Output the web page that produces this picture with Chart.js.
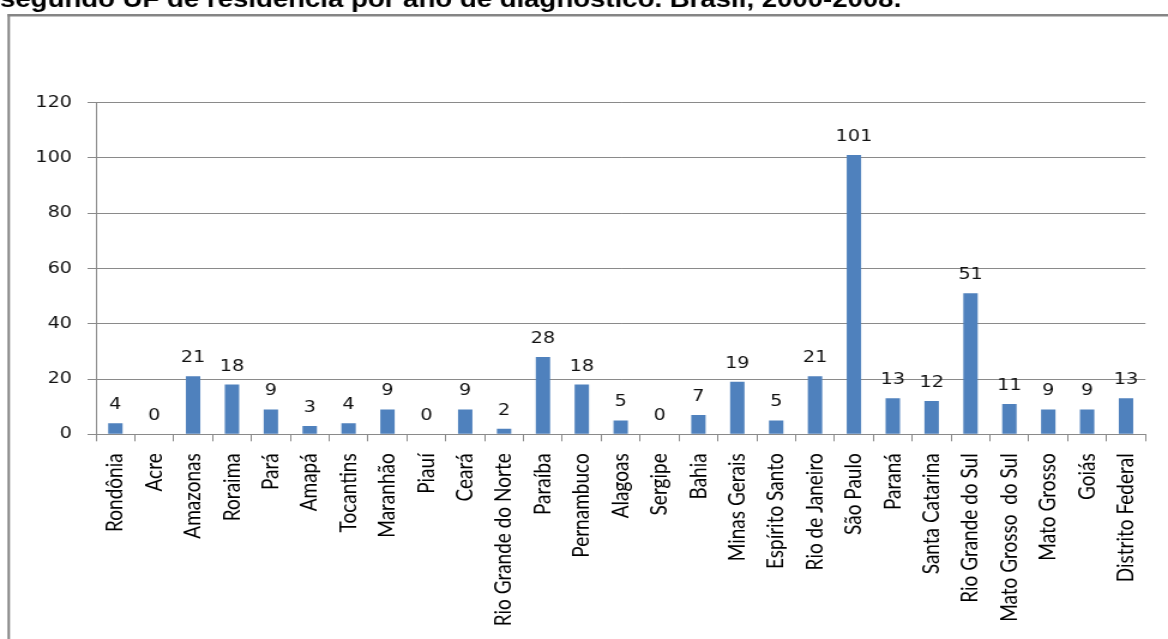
<!DOCTYPE html>
<html>
<head>
<meta charset="utf-8">
<script src="https://cdn.jsdelivr.net/npm/chart.js@4/dist/chart.umd.min.js"></script>
<style>
  html, body { margin: 0; padding: 0; background: #fff; overflow: hidden; }
  /* the figure is laid out at 974px and widened to fill the 1168px page */
  #stage { position: absolute; left: 0; top: 0; width: 974px; height: 639px;
           transform: scaleX(1.19918); transform-origin: 0 0; }
</style>
</head>
<body>
<div id="stage"><canvas id="chart"></canvas></div>
<script>
// Unidades da Federação, na ordem da tabela
const states = [
  "Rondônia", "Acre", "Amazonas", "Roraima", "Pará", "Amapá", "Tocantins",
  "Maranhão", "Piauí", "Ceará", "Rio Grande do Norte", "Paraíba", "Pernambuco",
  "Alagoas", "Sergipe", "Bahia", "Minas Gerais", "Espírito Santo",
  "Rio de Janeiro", "São Paulo", "Paraná", "Santa Catarina",
  "Rio Grande do Sul", "Mato Grosso  do Sul", "Mato Grosso", "Goiás",
  "Distrito Federal"
];

// Casos por UF de residência
const cases = [
  4, 0, 21, 18, 9, 3, 4,
  9, 0, 9, 2, 28, 18,
  5, 0, 7, 19, 5,
  21, 101, 13, 12,
  51, 11, 9, 9,
  13
];

// Escala do eixo vertical
const yTicks = [0, 20, 40, 60, 80, 100, 120];

const titleText = "segundo UF de residência por ano de diagnóstico. Brasil, 2000-2008.";

const GRID = "#8a8a8a";
const BAR = "#4f81bd";

// white page, caption line running off the top edge and the outer frame of the figure
const pagePlugin = {
  id: "page",
  beforeDraw(chart) {
    const ctx = chart.ctx;
    ctx.save();
    ctx.fillStyle = "#ffffff";
    ctx.fillRect(0, 0, chart.width, chart.height);
    ctx.fillStyle = "#000000";
    ctx.font = 'bold 23px "Liberation Sans", Arial, sans-serif';
    ctx.textAlign = "left";
    ctx.textBaseline = "alphabetic";
    ctx.fillText(titleText, 0, 7);
    ctx.fillStyle = "#858585";
    ctx.fillRect(6.3, 14, 2, chart.height);     // left edge of frame
    ctx.fillRect(6.3, 14, chart.width, 2.5);    // top edge of frame
    ctx.restore();
  }
};

// value printed above each column
const valueLabels = {
  id: "valueLabels",
  afterDatasetsDraw(chart) {
    const ctx = chart.ctx;
    const meta = chart.getDatasetMeta(0);
    ctx.save();
    ctx.fillStyle = "#111111";
    ctx.font = '16px "DejaVu Sans", Verdana, sans-serif';
    ctx.textAlign = "center";
    ctx.textBaseline = "alphabetic";
    meta.data.forEach((bar, i) => {
      ctx.fillText(String(cases[i]), bar.x, bar.y - 14);
    });
    ctx.restore();
  }
};

new Chart(document.getElementById("chart"), {
  type: "bar",
  data: {
    labels: states,
    datasets: [{
      data: cases,
      backgroundColor: BAR,
      borderWidth: 0,
      barPercentage: 0.74,
      categoryPercentage: 0.5
    }]
  },
  options: {
    responsive: true,
    maintainAspectRatio: false,
    animation: false,
    devicePixelRatio: 1,
    layout: { padding: { top: 102.5, right: 12.5, bottom: 0, left: 0 } },
    plugins: {
      legend: { display: false },
      tooltip: { enabled: false },
      title: { display: false }
    },
    scales: {
      x: {
        offset: true,
        grid: {
          offset: true,
          drawOnChartArea: false,
          drawTicks: true,
          tickLength: 7,
          color: GRID,
          lineWidth: 1
        },
        border: { display: true, color: GRID, width: 1 },
        ticks: {
          autoSkip: false,
          minRotation: 90,
          maxRotation: 90,
          padding: 12,
          color: "#000000",
          font: { family: 'Lato, "Liberation Sans", sans-serif', size: 19 }
        },
        afterFit(scale) { scale.height = 204.7; }
      },
      y: {
        min: yTicks[0],
        max: yTicks[yTicks.length - 1],
        ticks: {
          stepSize: yTicks[1] - yTicks[0],
          padding: 13,
          color: "#111111",
          font: { family: '"DejaVu Sans", Verdana, sans-serif', size: 16 }
        },
        grid: {
          color: GRID,
          lineWidth: 1,
          drawTicks: true,
          tickLength: 7
        },
        border: { display: true, color: GRID, width: 1 },
        afterFit(scale) { scale.width = 80; }
      }
    }
  },
  plugins: [pagePlugin, valueLabels]
});
</script>
</body>
</html>
